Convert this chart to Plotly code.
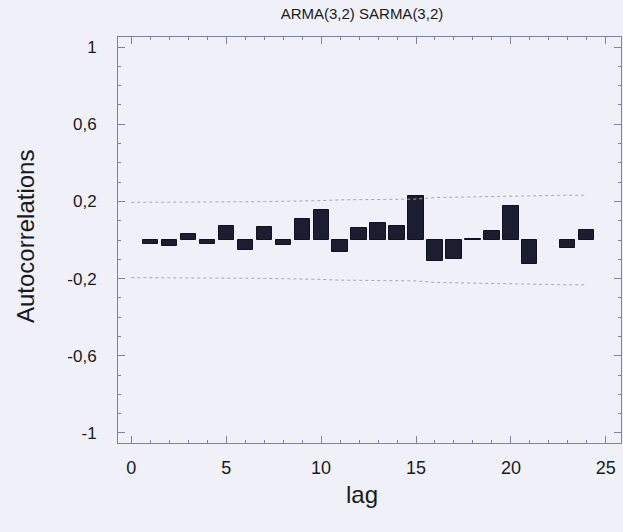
import plotly.graph_objects as go

title_text = "ARMA(3,2) SARMA(3,2)"
lags = list(range(1, 25))
acf = [-0.02, -0.03, 0.03, -0.02, 0.07, -0.05, 0.065, -0.025, 0.11, 0.155, -0.06, 0.06,
       0.09, 0.07, 0.23, -0.11, -0.10, 0.005, 0.047, 0.178, -0.124, None, -0.044, 0.05]
band_lags = list(range(0, 25))
band = [0.195, 0.195, 0.195, 0.196, 0.196, 0.197, 0.198, 0.199, 0.200, 0.201, 0.204, 0.208,
        0.209, 0.210, 0.211, 0.212, 0.220, 0.222, 0.224, 0.224, 0.225, 0.230, 0.231, 0.232, 0.232]
ytick_vals = [1, 0.6, 0.2, -0.2, -0.6, -1]
ytick_text = ["1", "0,6", "0,2", "-0,2", "-0,6", "-1"]
xtick_vals = [0, 5, 10, 15, 20, 25]

font_family = "Liberation Sans, Arial, sans-serif"
axis_col = "#7c82a8"
text_col = "#1a1a1a"

fig = go.Figure()
fig.add_trace(go.Bar(x=lags, y=acf, width=0.8,
                     marker=dict(color="#1c1d30", line=dict(color="#10111f", width=1))))
fig.add_trace(go.Scatter(x=band_lags, y=band, mode="lines",
                         line=dict(color="#a6a8b8", width=1, dash="dot")))
fig.add_trace(go.Scatter(x=band_lags, y=[-b for b in band], mode="lines",
                         line=dict(color="#a6a8b8", width=1, dash="dot")))

fig.update_layout(
    width=623, height=532,
    margin=dict(l=118, r=2, t=37, b=89),
    paper_bgcolor="#eff0f8", plot_bgcolor="#eff0f8",
    showlegend=False,
    font=dict(family=font_family, color=text_col),
    title=dict(text=title_text, x=0.581, xref="container", xanchor="center",
               y=1 - 14 / 532, yref="container", yanchor="middle",
               font=dict(size=15, color=text_col)),
    bargap=0,
)
fig.update_xaxes(range=[-0.7, 25.8], tickmode="array", tickvals=xtick_vals,
                 ticks="inside", ticklen=7, tickcolor=axis_col, tickwidth=1,
                 minor=dict(dtick=1, tick0=0, ticks="inside", ticklen=3, tickcolor=axis_col),
                 showline=True, linecolor=axis_col, linewidth=1, mirror="ticks",
                 showgrid=False, zeroline=False,
                 tickfont=dict(size=18, color=text_col), ticklabelstandoff=8)
fig.update_yaxes(range=[-1.052, 1.052], tickmode="array", tickvals=ytick_vals, ticktext=ytick_text,
                 ticks="inside", ticklen=7, tickcolor=axis_col, tickwidth=1,
                 minor=dict(dtick=0.1, tick0=0, ticks="inside", ticklen=3, tickcolor=axis_col),
                 showline=True, linecolor=axis_col, linewidth=1, mirror="ticks",
                 showgrid=False, zeroline=False,
                 tickfont=dict(size=17, color=text_col), ticklabelstandoff=17)

fig.add_annotation(text="Autocorrelations", xref="paper", yref="paper",
                   x=(26 - 118) / 503, y=(443 - 237) / 406, textangle=-90,
                   showarrow=False, xanchor="center", yanchor="middle",
                   font=dict(size=24, color=text_col))
fig.add_annotation(text="lag", xref="paper", yref="paper",
                   x=(362 - 118) / 503, y=(443 - 494) / 406,
                   showarrow=False, xanchor="center", yanchor="middle",
                   font=dict(size=24, color=text_col))

fig.write_html("out.html", config={"displayModeBar": False},
               post_script="document.body.style.margin='0px';document.body.style.background='#eff0f8';")
